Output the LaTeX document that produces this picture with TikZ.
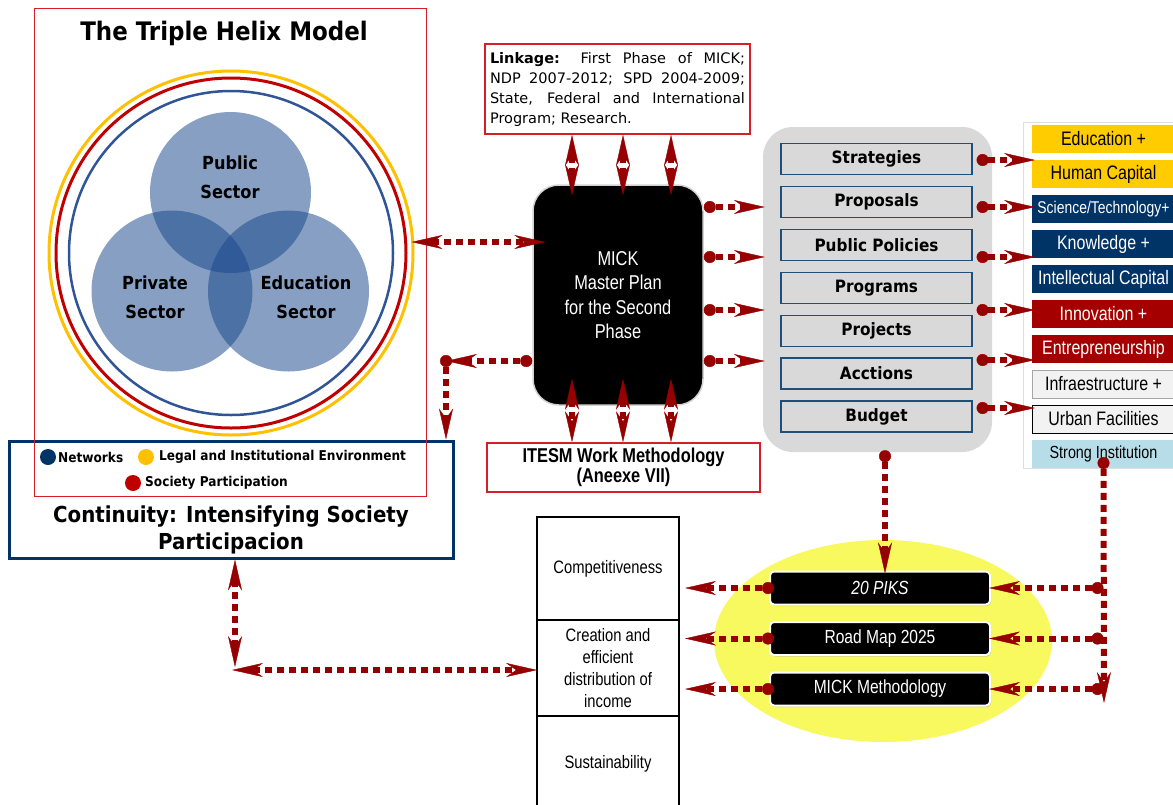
\documentclass[tikz,border=0pt]{standalone}
\usepackage{fontspec}
\setmainfont{Liberation Sans}
\newfontfamily\headfont[FakeStretch=0.9]{DejaVu Sans}
\newfontfamily\linkfont{DejaVu Sans}
\newfontfamily\condfont[FakeStretch=0.82]{Liberation Sans}
\usetikzlibrary{arrows.meta,positioning,shadows}
\newcommand{\fsz}[2]{\fontsize{#1}{#2}\selectfont}

\definecolor{sectorblue}{RGB}{23,71,139}
\definecolor{ringgold}{RGB}{255,192,0}
\definecolor{ringred}{RGB}{192,0,0}
\definecolor{ringblue}{RGB}{47,85,151}
\definecolor{framered}{RGB}{214,30,40}
\definecolor{contnavy}{RGB}{0,51,102}
\definecolor{flowred}{RGB}{150,0,0}
\definecolor{panelgray}{RGB}{217,217,217}
\definecolor{itemnavy}{RGB}{31,78,121}
\definecolor{labgold}{RGB}{255,204,0}
\definecolor{labnavy}{RGB}{0,51,102}
\definecolor{labred}{RGB}{165,0,0}
\definecolor{labgray}{RGB}{242,242,242}
\definecolor{labcyan}{RGB}{183,222,232}
\definecolor{glowyellow}{RGB}{248,248,95}

\begin{document}
\begin{tikzpicture}[x=1pt,y=-1pt,
  node distance=10.7pt,
  pike/.tip={Stealth[length=31pt,width=14pt,inset=10pt,line width=.4pt]},
  ball/.tip={Circle[length=12pt,line width=.4pt]},
  flow/.style={draw=flowred,line width=6pt,dash pattern=on 7pt off 5pt},
  dbl/.style={flow,pike-pike},
  dotarr/.style={flow,ball-pike},
  sector/.style={circle,fill=sectorblue,fill opacity=.52,minimum size=161pt,inner sep=0pt},
  sectlab/.style={font=\headfont\bfseries\fsz{18}{29},align=center},
  ring/.style={circle,draw=#1,line width=3pt,inner sep=0pt},
  legend/.style={anchor=west,inner sep=0pt,font=\headfont\bfseries\fsz{13.5}{16}},
  redbox/.style={draw=framered,line width=1.5pt},
  item/.style={draw=itemnavy,line width=1.2pt,fill=panelgray,minimum width=191pt,minimum height=31pt,inner sep=0pt,font=\headfont\bfseries\fsz{17}{20}},
  lab/.style={minimum width=143pt,minimum height=28pt,inner sep=0pt,outer sep=0pt,font=\condfont\fsz{19.5}{22}},
  tag/.style={fill=black,draw=white,line width=2pt,rounded corners=4pt,minimum width=220pt,minimum height=33pt,text=white,font=\condfont\fsz{19}{22},drop shadow={shadow xshift=1pt,shadow yshift=-1.5pt,opacity=.4}},
  cell/.style={draw=black,line width=2pt,outer sep=0pt,inner sep=2pt,minimum width=142pt,align=center,font=\condfont\fsz{18}{22}}
]
\useasboundingbox (0,0) rectangle (1173,804);

% triple helix rings and sectors
\node[ring=ringgold,minimum size=364pt] (outer) at (231,253) {};
\node[ring=ringred,minimum size=350pt] (middle) at (231,253) {};
\node[ring=ringblue,line width=2.5pt,minimum size=324pt] (inner) at (231,253) {};
\node[sector] (pub)  at (230.5,192.5) {};
\node[sector] (priv) at (172,291) {};
\node[sector] (edus) at (288.5,291) {};
\node[sectlab] (publab)  at (230,177.5) {Public\\Sector};
\node[sectlab] (privlab) at (155,297) {Private\\Sector};
\node[sectlab] (eduslab) at (306,297) {Education\\Sector};
\node[font=\headfont\bfseries\fsz{25.5}{30}] (title) at (224,33) {The Triple Helix Model};

% continuity box with legend
\node[draw=contnavy,line width=3pt,minimum width=444pt,minimum height=117pt,inner sep=0pt] (cont) at (231,499.5) {};
\draw[framered,line width=.9pt] (34,8) rectangle (426,496);
\fill[contnavy] (48,457) circle (8);
\node[legend] (netw) at (58,457) {Networks};
\fill[ringgold] (146,457) circle (8);
\node[legend] (legal) at (159,457) {Legal and Institutional Environment};
\fill[ringred] (133,483) circle (8);
\node[legend] (socp) at (145,483) {Society Participation};
\node[font=\headfont\bfseries\fsz{22}{27},align=center] (conttext) at (231,529.5) {Continuity: Intensifying Society\\Participacion};

% master plan and its inputs
\node[redbox,text width=255pt,align=justify,inner sep=5pt,minimum height=90pt,font=\linkfont\fsz{14.5}{20}] (link) at (617.5,89)
  {\textbf{Linkage:} First Phase of MICK;\linebreak NDP 2007-2012; SPD 2004-2009;\linebreak State, Federal and International\linebreak Program; Research.};
\node[fill=black,draw=gray!35,line width=1.5pt,rounded corners=26pt,minimum width=170pt,minimum height=220pt,text=white,align=center,font=\condfont\fsz{20}{24.5}] (mick) at (618,295)
  {MICK\\Master Plan\\for the Second\\Phase};
\node[redbox,minimum width=273pt,minimum height=49pt,align=center,font=\condfont\bfseries\fsz{20}{20}] (itesm) at (623.5,467.5)
  {ITESM Work Methodology\\(Aneexe VII)};

% planning panel
\node[fill=panelgray,rounded corners=30pt,minimum width=229pt,minimum height=325pt] (panel) at (877.5,289.5) {};
\node[item] (strat) at (876.5,159) {Strategies};
\node[item,below=of strat] (prop) {Proposals};
\node[item,below=of prop] (pol) {Public Policies};
\node[item,below=of pol] (prog) {Programs};
\node[item,below=of prog] (proj) {Projects};
\node[item,below=of proj] (acts) {Acctions};
\node[item,below=of acts] (budg) {Budget};

% capital labels
\node[draw=gray!25,fill=white,minimum width=160pt,minimum height=346pt] (shelf) at (1103,295) {};
\node[lab,fill=labgold] (edu) at (1103.5,139) {Education +};
\node[lab,fill=labgold,below=7pt of edu] (hcap) {Human Capital};
\node[lab,fill=labnavy,text=white,below=7pt of hcap,font=\condfont\fsz{17}{20}] (sci) {Science/Technology+};
\node[lab,fill=labnavy,text=white,below=7pt of sci] (know) {Knowledge +};
\node[lab,fill=labnavy,text=white,below=7pt of know] (icap) {Intellectual Capital};
\node[lab,fill=labred,text=white,below=7pt of icap] (innov) {Innovation +};
\node[lab,fill=labred,text=white,below=7pt of innov] (entr) {Entrepreneurship};
\node[lab,fill=labgray,draw=gray!70,line width=1pt,below=7pt of entr] (infra) {Infraestructure +};
\node[lab,fill=labgray,draw=black,line width=1pt,below=7pt of infra] (urban) {Urban Facilities};
\node[lab,fill=labcyan,below=7pt of urban,font=\condfont\fsz{17.5}{20}] (strong) {Strong Institution};

% outcomes
\fill[glowyellow] (883,641) ellipse (169 and 101);
\node[tag] (piks) at (880,588) {\itshape 20 PIKS};
\node[tag,below=15.5pt of piks] (road) {Road Map 2025};
\node[tag,below=15.5pt of road] (meth) {MICK Methodology};

\node[cell,minimum height=103pt] (comp) at (608,568.5) {Competitiveness};
\node[cell,minimum height=96pt,below=0pt of comp] (create) {Creation and\\efficient\\distribution of\\income};
\node[cell,minimum height=96pt,below=0pt of create] (sust) {Sustainability};

% connectors
\foreach \xx in {572,623,671} {
  \draw[dbl,shorten >=-11pt] (link.south -| \xx,0) -- (mick.north -| \xx,0);
  \draw[dbl,shorten <=-27pt] (mick.south -| \xx,0) -- (itesm.north -| \xx,0);
}
\draw[dbl,shorten <=-3pt,shorten >=-13pt] (outer.east |- 0,242) -- (mick.west |- 0,242);
\foreach \yy in {207,257,310,361}
  \draw[dotarr,shorten >=-2pt] (mick.east |- 0,\yy) -- (panel.west |- 0,\yy);
\coordinate (knee) at (446,361);
\draw[dotarr] (mick.west |- knee) -- (knee);
\draw[dotarr] ([yshift=6pt]knee) -- (knee |- cont.north);

\foreach \yy in {160,207,257,310,360,408}
  \draw[dotarr,shorten <=4pt,shorten >=-3pt] (strat.east |- 0,\yy) -- (edu.west |- 0,\yy);

\draw[dotarr,shorten <=-2pt,shorten >=-3pt] (panel.south -| 885,0) -- (piks.north -| 885,0);
\coordinate (drop) at (1104,703);
\draw[dotarr] ([yshift=11pt]strong.south) -- (drop);
\foreach \t in {piks,road,meth} {
  \draw[dotarr,shorten >=-2pt] (strong.south |- \t.east) -- (\t.east);
  \draw[dotarr,shorten >=6pt] ([xshift=5pt]\t.west) -- (\t.west -| comp.east);
}

\coordinate (elbow) at (235,670);
\draw[dbl] (cont.south -| elbow) -- ([yshift=3pt]elbow);
\draw[dbl] ([xshift=-3pt]elbow) -- (elbow -| create.west);
\end{tikzpicture}
\end{document}
